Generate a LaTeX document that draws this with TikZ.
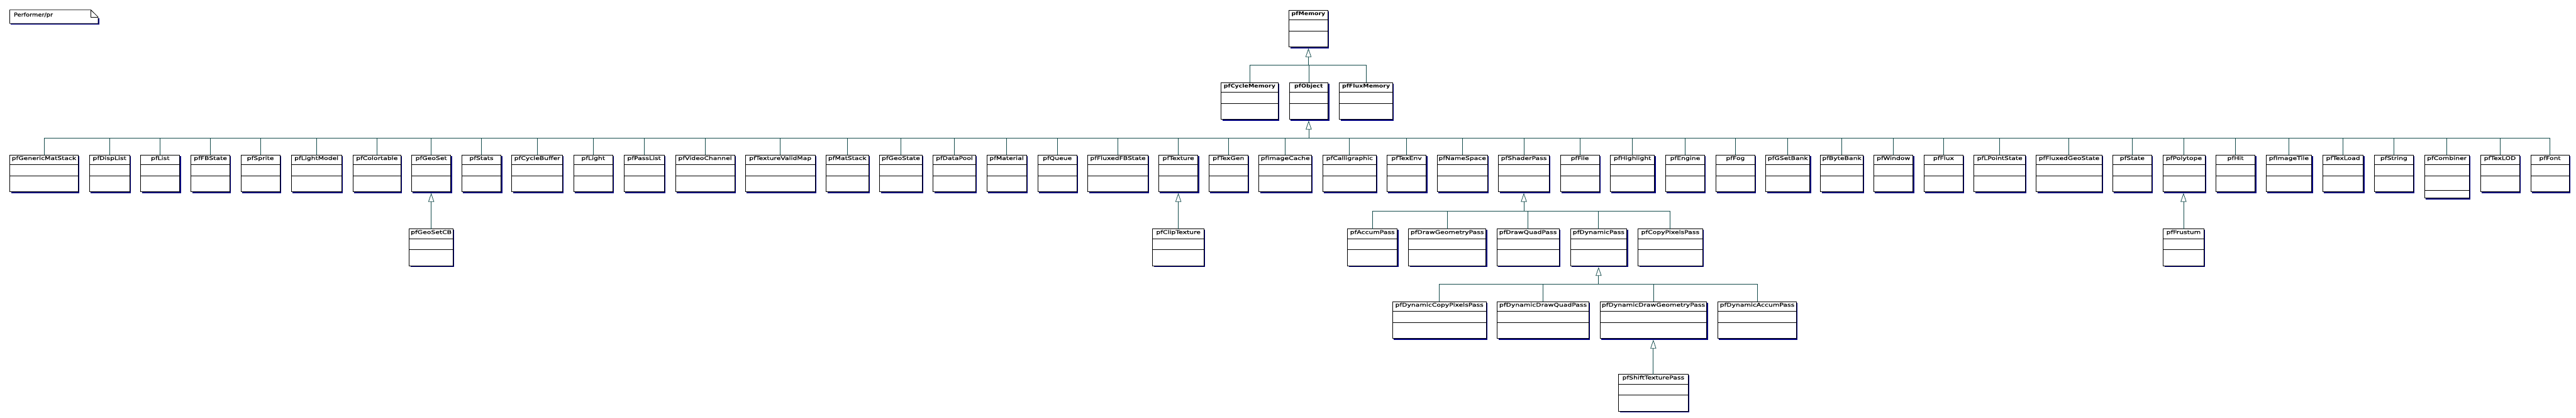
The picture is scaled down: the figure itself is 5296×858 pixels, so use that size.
\documentclass[tikz,border=0pt]{standalone}
\usepackage{fontspec}
\setmainfont{DejaVu Sans}
\newfontfamily\clsfont{DejaVu Sans}[FakeBold=0.6]
\usetikzlibrary{arrows.meta,shadows,calc}
\definecolor{shadowc}{RGB}{0,0,128}
\definecolor{connc}{RGB}{20,75,75}
\tikzset{
  clsbox/.style={rectangle, draw=black, line width=1pt, fill=white, inner sep=0pt, outer sep=0pt,
    anchor=north west, general shadow={fill=shadowc, shadow xshift=2.5pt, shadow yshift=-2.5pt}},
  clsname/.style={anchor=base, inner sep=0pt, font=\fontsize{10.5}{12}\selectfont},
  sepline/.style={draw=black, line width=1pt},
  conn/.style={draw=connc, line width=1pt},
  inh/.style={conn, -{Triangle[open, fill=white, length=18pt, width=12pt]}},
}
\def\rowT{0}
% #1 height, #2 id, #3 x, #4 width, #5 label
\newcommand\ucls[5][76]{%
  \node[clsbox, minimum width=#4pt, minimum height=#1pt] (#2) at (#3,\rowT) {};
  \draw[sepline] ([yshift=-20pt]#2.north west) -- ([yshift=-20pt]#2.north east);
  \draw[sepline] ([yshift=-43pt]#2.north west) -- ([yshift=-43pt]#2.north east);
  \node[clsname] (#2-name) at ([yshift=-10.5pt]#2.north) {\scalebox{1.33}[1]{\clsfont #5}};
}
\newcommand\bcls[4]{%
  \node[clsbox, minimum width=#3pt, minimum height=76pt] (#1) at (#2,\rowT) {};
  \draw[sepline] ([yshift=-20pt]#1.north west) -- ([yshift=-20pt]#1.north east);
  \draw[sepline] ([yshift=-43pt]#1.north west) -- ([yshift=-43pt]#1.north east);
  \node[clsname] (#1-name) at ([yshift=-10.5pt]#1.north) {\scalebox{1.16}[1]{\bfseries #4}};
}
\begin{document}
\begin{tikzpicture}[x=1pt,y=-1pt]
\useasboundingbox (0,0) rectangle (5296,858);
\fill[white] (0,0) rectangle (5296,858);

% note
\fill[shadowc] (22.5,37.5) -- (204.2,37.5) -- (204.2,50.8) -- (22.5,50.8) -- cycle;
\draw[black, line width=1pt, fill=white] (20,20.3) -- (186.7,20.3) -- (201.7,35) -- (201.7,48.3) -- (20,48.3) -- cycle;
\draw[black, line width=1pt] (186.7,20.3) -- (186.7,35) -- (201.7,35);
\node[anchor=base west, inner sep=0pt, font=\fontsize{11}{13}\selectfont] (note) at (28.3,34) {\scalebox{1.15}[1]{\clsfont Performer/pr}};

% row 1
\def\rowT{20.7}
\bcls{pfMemory}{2650}{80}{pfMemory}

% row 2
\def\rowT{169.3}
\bcls{pfCycleMemory}{2510.7}{116.6}{pfCycleMemory}
\bcls{pfObject}{2650.5}{80}{pfObject}
\bcls{pfFluxMemory}{2753.7}{109.6}{pfFluxMemory}

% row 3
\def\rowT{318}
\ucls{pfGenericMatStack}{20.4}{140}{pfGenericMatStack}
\ucls{pfDispList}{183.7}{83}{pfDispList}
\ucls{pfList}{289.4}{80}{pfList}
\ucls{pfFBState}{392.6}{80}{pfFBState}
\ucls{pfSprite}{495.4}{80}{pfSprite}
\ucls{pfLightModel}{598.6}{104}{pfLightModel}
\ucls{pfColortable}{725.6}{98.4}{pfColortable}
\ucls{pfGeoSet}{846.3}{80.4}{pfGeoSet}
\ucls{pfStats}{949.5}{80.5}{pfStats}
\ucls{pfCycleBuffer}{1052.3}{104.2}{pfCycleBuffer}
\ucls{pfLight}{1179.3}{80.5}{pfLight}
\ucls{pfPassList}{1282.5}{83.5}{pfPassList}
\ucls{pfVideoChannel}{1388.7}{121.7}{pfVideoChannel}
\ucls{pfTextureValidMap}{1532.6}{143}{pfTextureValidMap}
\ucls{pfMatStack}{1698.4}{87.2}{pfMatStack}
\ucls{pfGeoState}{1808.4}{87.3}{pfGeoState}
\ucls{pfDataPool}{1918.4}{87.3}{pfDataPool}
\ucls{pfMaterial}{2028.5}{81.9}{pfMaterial}
\ucls{pfQueue}{2133.7}{80}{pfQueue}
\ucls{pfFluxedFBState}{2236.4}{123.6}{pfFluxedFBState}
\ucls{pfTexture}{2382.3}{80.4}{pfTexture}
\ucls{pfTexGen}{2485.5}{80}{pfTexGen}
\ucls{pfImageCache}{2588.3}{108.1}{pfImageCache}
\ucls{pfCalligraphic}{2719.7}{109.5}{pfCalligraphic}
\ucls{pfTexEnv}{2851.5}{80.5}{pfTexEnv}
\ucls{pfNameSpace}{2954.7}{103.3}{pfNameSpace}
\ucls{pfShaderPass}{3080.7}{104.3}{pfShaderPass}
\ucls{pfFile}{3207.7}{80.5}{pfFile}
\ucls{pfHighlight}{3310.5}{91.1}{pfHighlight}
\ucls{pfEngine}{3424.4}{80}{pfEngine}
\ucls{pfFog}{3527.6}{80.4}{pfFog}
\ucls{pfGSetBank}{3630.4}{90.2}{pfGSetBank}
\ucls{pfByteBank}{3742.9}{87.1}{pfByteBank}
\ucls{pfWindow}{3852.4}{80.4}{pfWindow}
\ucls{pfFlux}{3955.6}{80.4}{pfFlux}
\ucls{pfLPointState}{4058.4}{105.6}{pfLPointState}
\ucls{pfFluxedGeoState}{4186.3}{134.7}{pfFluxedGeoState}
\ucls{pfState}{4343.4}{80.4}{pfState}
\ucls{pfPolytope}{4446.6}{86.4}{pfPolytope}
\ucls{pfHit}{4555.7}{80.3}{pfHit}
\ucls{pfImageTile}{4658.6}{93.9}{pfImageTile}
\ucls{pfTexLoad}{4775.5}{83.1}{pfTexLoad}
\ucls{pfString}{4881.6}{79.8}{pfString}
\ucls[89]{pfCombiner}{4984.4}{92}{pfCombiner}
\draw[sepline] ([yshift=-73pt]pfCombiner.north west) -- ([yshift=-73pt]pfCombiner.north east);
\ucls{pfTexLOD}{5099.4}{80.3}{pfTexLOD}
\ucls{pfFont}{5202.7}{79.3}{pfFont}

% row 4
\def\rowT{470}
\ucls{pfGeoSetCB}{841.4}{90.2}{pfGeoSetCB}
\ucls{pfClipTexture}{2369.7}{105.6}{pfClipTexture}
\ucls{pfAccumPass}{2770.6}{101.8}{pfAccumPass}
\ucls{pfDrawGeometryPass}{2895.7}{159.3}{pfDrawGeometryPass}
\ucls{pfDrawQuadPass}{3077.3}{128}{pfDrawQuadPass}
\ucls{pfDynamicPass}{3228.6}{115.8}{pfDynamicPass}
\ucls{pfCopyPixelsPass}{3367.7}{132.3}{pfCopyPixelsPass}
\ucls{pfFrustum}{4447.6}{82.9}{pfFrustum}

% row 5
\def\rowT{619.3}
\ucls{pfDynamicCopyPixelsPass}{2862.6}{193}{pfDynamicCopyPixelsPass}
\ucls{pfDynamicDrawQuadPass}{3078.3}{188.1}{pfDynamicDrawQuadPass}
\ucls{pfDynamicDrawGeometryPass}{3289.7}{219}{pfDynamicDrawGeometryPass}
\ucls{pfDynamicAccumPass}{3531.5}{161.9}{pfDynamicAccumPass}

% row 6
\def\rowT{768.7}
\ucls{pfShiftTexturePass}{3327.5}{143}{pfShiftTexturePass}

% generalisations
\coordinate (jmem) at ($(pfMemory.south)+(0,37.6)$);
\draw[inh] (jmem) -- ([yshift=-2.5pt]pfMemory.south);
\foreach \c in {pfCycleMemory,pfObject,pfFluxMemory}
  \draw[conn] (\c.north) |- (jmem);

\coordinate (jobj) at ($(pfObject.south)+(0,38)$);
\draw[inh] (jobj) -- ([yshift=-2.5pt]pfObject.south);
\foreach \c in {pfGenericMatStack,pfDispList,pfList,pfFBState,pfSprite,pfLightModel,pfColortable,
  pfGeoSet,pfStats,pfCycleBuffer,pfLight,pfPassList,pfVideoChannel,pfTextureValidMap,pfMatStack,
  pfGeoState,pfDataPool,pfMaterial,pfQueue,pfFluxedFBState,pfTexture,pfTexGen,pfImageCache,
  pfCalligraphic,pfTexEnv,pfNameSpace,pfShaderPass,pfFile,pfHighlight,pfEngine,pfFog,pfGSetBank,
  pfByteBank,pfWindow,pfFlux,pfLPointState,pfFluxedGeoState,pfState,pfPolytope,pfHit,pfImageTile,
  pfTexLoad,pfString,pfCombiner,pfTexLOD,pfFont}
  \draw[conn] (\c.north) |- (jobj);

\coordinate (jsha) at ($(pfShaderPass.south)+(0,39.3)$);
\draw[inh] (jsha) -- ([yshift=-2.5pt]pfShaderPass.south);
\foreach \c in {pfAccumPass,pfDrawGeometryPass,pfDrawQuadPass,pfDynamicPass,pfCopyPixelsPass}
  \draw[conn] (\c.north) |- (jsha);

\coordinate (jdyn) at ($(pfDynamicPass.south)+(0,37.6)$);
\draw[inh] (jdyn) -- ([yshift=-2.5pt]pfDynamicPass.south);
\foreach \c in {pfDynamicCopyPixelsPass,pfDynamicDrawQuadPass,pfDynamicDrawGeometryPass,pfDynamicAccumPass}
  \draw[conn] (\c.north) |- (jdyn);

\draw[inh] (pfGeoSetCB.north) -- ($(pfGeoSet.south -| pfGeoSetCB.north)+(0,2.5)$);
\draw[inh] (pfClipTexture.north) -- ($(pfTexture.south -| pfClipTexture.north)+(0,2.5)$);
\draw[inh] (pfShiftTexturePass.north) -- ($(pfDynamicDrawGeometryPass.south -| pfShiftTexturePass.north)+(0,2.5)$);
\draw[inh] (pfFrustum.north) -- ($(pfPolytope.south -| pfFrustum.north)+(0,2.5)$);
\end{tikzpicture}
\end{document}
